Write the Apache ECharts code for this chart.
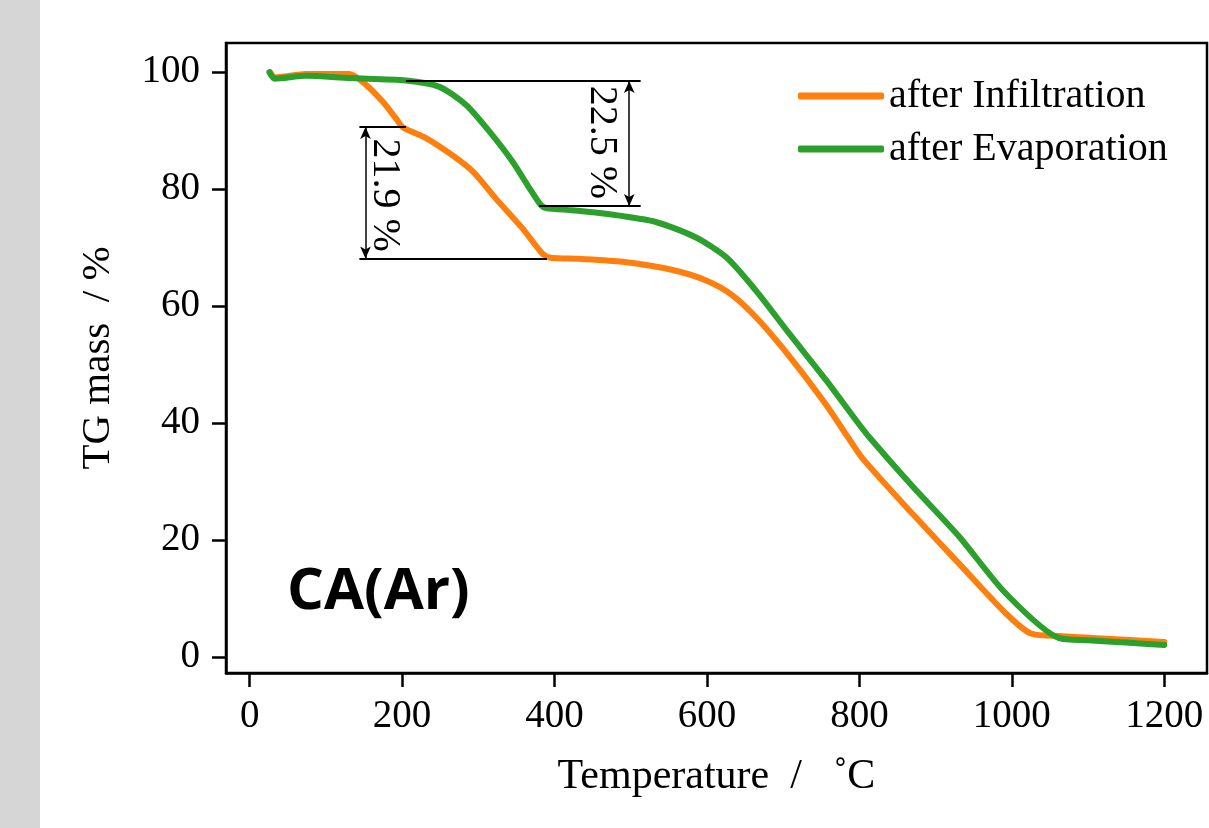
<html>
<head>
<meta charset="utf-8" />
<script src="https://cdn.jsdelivr.net/npm/echarts@6/dist/echarts.min.js"></script>
<style type="text/css">
	html, body, #main {
	width: 100%;
	height: 100%;
	margin: 0;
	background: #fff;
}
</style>
</head>
<body>
	<div id="main"></div>
	<script>
		// TG curves: temperature (°C) / mass (%)
		var infTemp = [27, 33, 74, 131, 153, 175, 192, 201, 232, 266, 293, 323, 358, 384, 395, 432, 489, 555, 599, 633, 668, 712, 756, 786, 804, 869, 935, 992, 1025, 1066, 1105, 1200];
		var infMass = [100, 99.1, 99.7, 99.7, 97.8, 94.9, 92.1, 90.6, 88.7, 85.8, 83, 78.4, 73.3, 69, 68.3, 68.1, 67.6, 66.2, 64.4, 61.9, 57.6, 50.8, 43.2, 37.4, 34.0, 24.6, 15.4, 7.5, 4.05, 3.6, 3.3, 2.6];

		var evaTemp = [26, 33, 74, 131, 205, 249, 284, 315, 345, 367, 382, 389, 423, 467, 533, 585, 625, 664, 708, 756, 795, 813, 869, 931, 992, 1062, 1100, 1150, 1200];
		var evaMass = [100, 98.9, 99.4, 99.0, 98.6, 97.5, 94.4, 89.8, 84.7, 80.2, 77.3, 76.8, 76.4, 75.8, 74.4, 71.8, 68.4, 62.7, 55.3, 47.4, 40.6, 37.6, 29.3, 20.6, 10.9, 3.25, 2.9, 2.5, 2.1];

		var xTicks = [0, 200, 400, 600, 800, 1000, 1200];
		var yTicks = [0, 20, 40, 60, 80, 100];

		// step annotations: [x1, x2, y]
		var stepLines = [
			[144, 205, 90.65], [144, 390, 68.15],
			[205, 513, 98.5], [380, 513, 77.15]
		];
		// arrows: [x, yTop, yBottom]
		var stepArrows = [[152, 90.65, 68.15], [498, 98.5, 77.15]];
		// labels: [x, y, text]
		var stepLabels = [[177, 79.0, '21.9 %'], [462, 88.0, '22.5 %']];

		function pairs(xs, ys) {
			var out = [];
			for (var i = 0; i < xs.length; i++) out.push([xs[i], ys[i]]);
			return out;
		}

		var serif = 'Liberation Serif';
		var axisCol = '#000';

		var chart = echarts.init(document.getElementById('main'));

		var option = {
			animation: false,
			grid: {
				left: 226, top: 43, right: 2, bottom: 155,
				show: true, borderColor: axisCol, borderWidth: 2.5
			},
			legend: {
				orient: 'vertical',
				left: 793, top: 71,
				itemWidth: 86, itemHeight: 7, itemGap: 13,
				icon: 'roundRect',
				textStyle: { fontFamily: serif, fontSize: 40, lineHeight: 40, color: '#000' },
				data: ['after Infiltration', 'after Evaporation']
			},
			xAxis: {
				type: 'value', min: -31, max: 1256,
				name: 'Temperature  /   ˚C', nameLocation: 'middle', nameGap: 83,
				nameTextStyle: { fontFamily: serif, fontSize: 42, color: '#000' },
				axisLine: { onZero: false, lineStyle: { color: axisCol, width: 2.5 } },
				axisTick: { length: 14, lineStyle: { width: 2.5 }, customValues: xTicks },
				axisLabel: {
					customValues: xTicks, fontFamily: serif, fontSize: 39, color: '#000', margin: 24,
					formatter: function (v) { return String(v); }
				},
				splitLine: { show: false }
			},
			yAxis: {
				type: 'value', min: -2.7, max: 105,
				name: 'TG mass  / %', nameLocation: 'middle', nameGap: 107,
				nameTextStyle: { fontFamily: serif, fontSize: 41, color: '#000' },
				axisLine: { show: true, onZero: false, lineStyle: { color: axisCol, width: 2.5 } },
				axisTick: { show: true, length: 14, lineStyle: { width: 2.5 }, customValues: yTicks },
				axisLabel: {
					customValues: yTicks, fontFamily: serif, fontSize: 39, color: '#000', margin: 26,
					formatter: function (v) { return String(v); }
				},
				splitLine: { show: false }
			},
			graphic: [
				{ type: 'rect', left: 0, top: 0, shape: { width: 40, height: 828 }, style: { fill: '#d6d6d6' } },
				{ type: 'text', left: 287, top: 563, style: { text: 'CA(Ar)', font: 'bold 58px "Open Sans"', fill: '#000' } }
			],
			series: [
				{
					name: 'after Infiltration', type: 'line', smooth: 0.25,
					showSymbol: false, symbol: 'none',
					color: '#ff7f0e',
					lineStyle: { width: 6, color: '#ff7f0e', cap: 'round' },
					data: pairs(infTemp, infMass),
					markLine: {
						silent: true, symbol: ['none', 'none'],
						label: { show: false },
						lineStyle: { color: '#000', width: 2, type: 'solid' },
						data: stepLines.map(function (s) {
							return [{ coord: [s[0], s[2]] }, { coord: [s[1], s[2]] }];
						})
					},
					markPoint: {
						silent: true, symbol: 'circle', symbolSize: 1,
						itemStyle: { color: 'rgba(0,0,0,0)' },
						label: {
							show: true, position: 'inside', rotate: -90,
							fontFamily: serif, fontSize: 40, color: '#000',
							formatter: function (p) { return p.name; }
						},
						data: stepLabels.map(function (s) { return { name: s[2], coord: [s[0], s[1]] }; })
					}
				},
				{
					name: 'after Evaporation', type: 'line', smooth: 0.25,
					showSymbol: false, symbol: 'none',
					color: '#2ca02c',
					lineStyle: { width: 6, color: '#2ca02c', cap: 'round' },
					data: pairs(evaTemp, evaMass),
					markLine: {
						silent: true, symbol: ['arrow', 'arrow'], symbolSize: [8, 12],
						label: { show: false },
						lineStyle: { color: '#000', width: 1.5, type: 'solid' },
						data: stepArrows.map(function (a) {
							return [{ coord: [a[0], a[1]] }, { coord: [a[0], a[2]] }];
						})
					}
				}
			]
		};

		chart.setOption(option);

		window.onresize = function () {
			chart.resize();
		};
	</script>
</body>
</html>
